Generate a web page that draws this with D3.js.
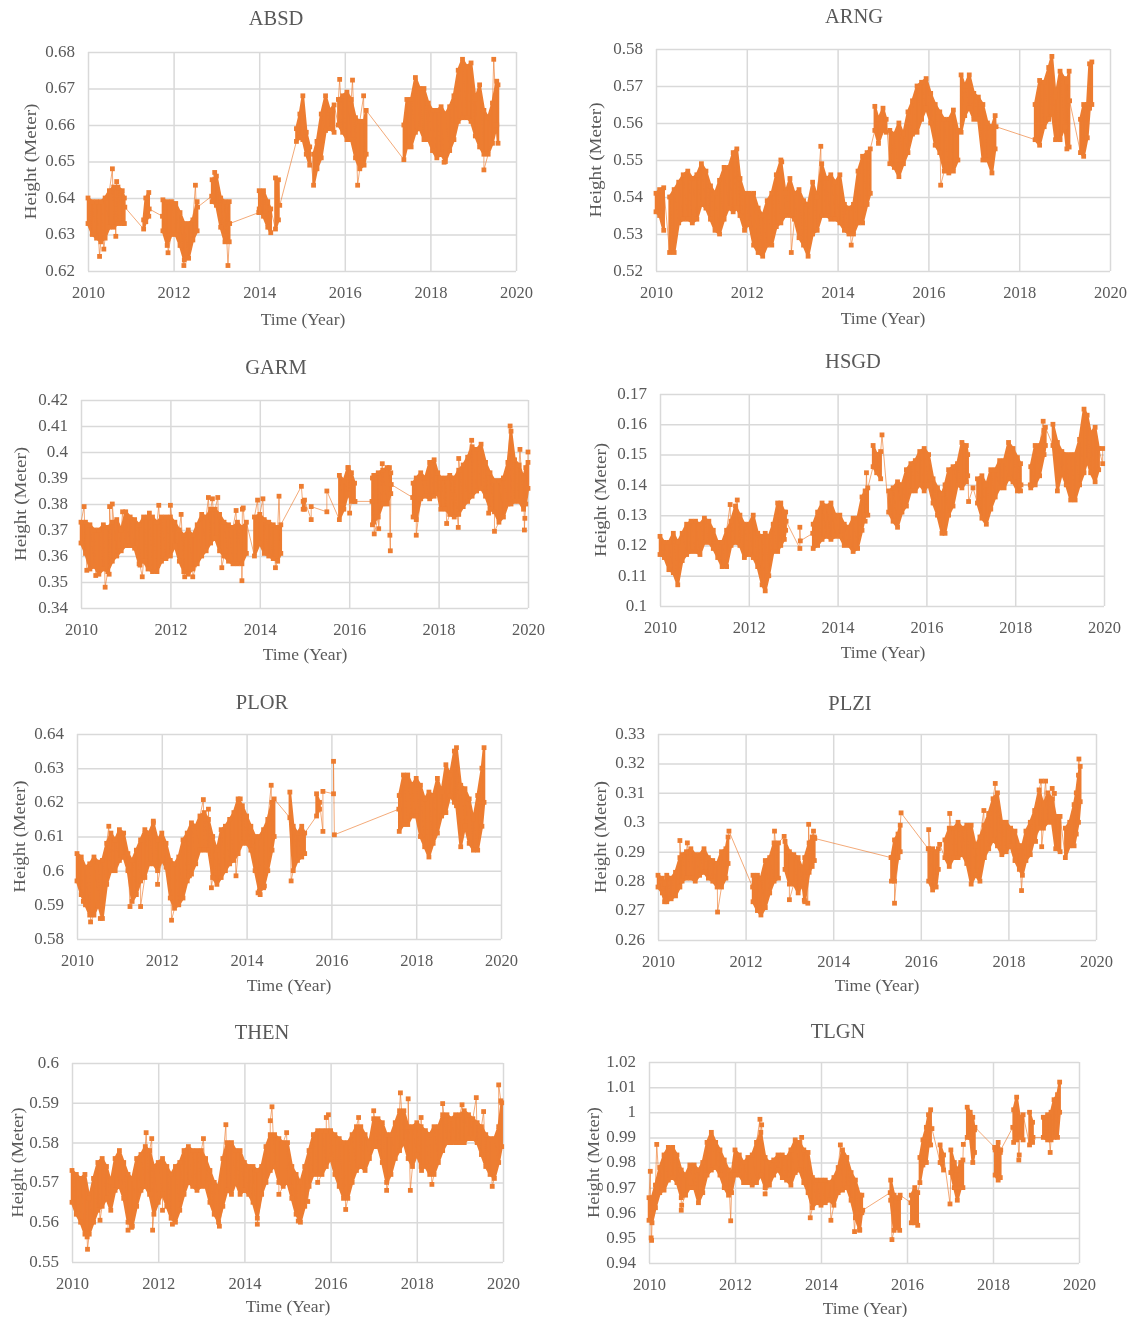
<!DOCTYPE html>
<html>
<head>
<meta charset="utf-8">
<title>Height time series</title>
<script src="https://cdnjs.cloudflare.com/ajax/libs/d3/7.8.5/d3.min.js"></script>
<style>
  html, body { margin: 0; padding: 0; background: #fff; }
  svg { filter: blur(0.35px); }
  text { font-family: "Liberation Serif", serif; fill: #595959; }
</style>
</head>
<body>
<svg id="chart" width="1128" height="1317"></svg>
<script>
// rows are [year, low, high] of the dense band, spikes are [year, value]
const xTicks = [2010, 2012, 2014, 2016, 2018, 2020];

const absdTicks = [0.62, 0.63, 0.64, 0.65, 0.66, 0.67, 0.68];
const absdBands = [
  [[2010.0,.633,.640],[2010.1,.630,.639],[2010.2,.629,.639],[2010.3,.628,.639],[2010.4,.629,.640],[2010.5,.632,.642],[2010.6,.632,.643],[2010.7,.633,.643],[2010.8,.633,.642],[2010.85,.633,.640]],
  [[2011.3,.6315,.634],[2011.35,.6335,.640],[2011.42,.635,.6415]],
  [[2011.75,.631,.6395],[2011.85,.627,.639],[2011.95,.630,.639],[2012.05,.630,.6385],[2012.15,.627,.636],[2012.25,.623,.633],[2012.35,.6235,.633],[2012.45,.6285,.634],[2012.55,.631,.639]],
  [[2012.9,.639,.645],[2013.0,.638,.646],[2013.1,.632,.640],[2013.2,.628,.639],[2013.3,.628,.639]],
  [[2014.0,.637,.642],[2014.1,.635,.642],[2014.2,.632,.639],[2014.27,.6305,.637]],
  [[2014.38,.6315,.6455],[2014.45,.634,.645]],
  [[2014.87,.6555,.659],[2014.95,.6565,.663],[2015.02,.656,.668],[2015.1,.652,.658],[2015.18,.649,.654]],
  [[2015.27,.6435,.652],[2015.35,.648,.6555],[2015.45,.651,.663],[2015.55,.6585,.668],[2015.65,.659,.664],[2015.75,.658,.6655]],
  [[2015.85,.660,.667],[2015.95,.658,.668],[2016.05,.656,.669],[2016.15,.656,.667],[2016.25,.651,.662],[2016.35,.648,.661],[2016.45,.649,.661],[2016.5,.652,.664]],
  [[2017.38,.6505,.660],[2017.45,.654,.667],[2017.55,.654,.667],[2017.65,.658,.673],[2017.75,.659,.670],[2017.85,.656,.670],[2017.95,.656,.666],[2018.05,.653,.664],[2018.15,.651,.664],[2018.25,.652,.665],[2018.35,.650,.663],[2018.45,.653,.665],[2018.55,.656,.668],[2018.65,.661,.675],[2018.75,.662,.678],[2018.85,.662,.676],[2018.95,.661,.677],[2019.05,.657,.667],[2019.15,.654,.671],[2019.25,.652,.664],[2019.35,.652,.662],[2019.45,.655,.666],[2019.55,.660,.672],[2019.58,.655,.671]]
];
const absdSpikes = [[2010.27,.624],[2010.37,.626],[2010.57,.648],[2010.65,.6295],[2010.67,.6445],[2010.86,.6375],[2011.43,.637],[2011.74,.635],[2011.87,.625],[2012.24,.6215],[2012.51,.6435],[2012.56,.6375],[2012.89,.6405],[2012.96,.647],[2013.27,.6215],[2013.31,.633],[2013.99,.636],[2014.48,.638],[2015.88,.6725],[2016.18,.6723],[2016.3,.6435],[2016.44,.668],[2018.32,.6498],[2019.25,.6477],[2019.48,.678]];

const arngTicks = [0.52, 0.53, 0.54, 0.55, 0.56, 0.57, 0.58];
const arngBands = [
  [[2010.0,.536,.541],[2010.08,.535,.542],[2010.17,.531,.5425]],
  [[2010.3,.525,.540],[2010.4,.525,.542],[2010.5,.533,.544],[2010.6,.534,.546],[2010.7,.534,.547],[2010.8,.533,.545],[2010.9,.534,.546],[2011.0,.538,.549],[2011.1,.537,.547],[2011.2,.534,.543],[2011.3,.531,.541],[2011.4,.530,.5445],[2011.5,.534,.548],[2011.6,.537,.548],[2011.7,.536,.552],[2011.78,.537,.553],[2011.85,.535,.545],[2011.95,.531,.541],[2012.05,.533,.541],[2012.15,.527,.541],[2012.25,.525,.537],[2012.35,.524,.535],[2012.45,.527,.539],[2012.55,.527,.541],[2012.65,.532,.546],[2012.75,.533,.550],[2012.85,.535,.541],[2012.95,.535,.545],[2013.05,.534,.541],[2013.15,.529,.542],[2013.25,.527,.539],[2013.35,.524,.538],[2013.45,.530,.544],[2013.55,.531,.540],[2013.65,.535,.549],[2013.75,.535,.545],[2013.85,.534,.546],[2013.95,.534,.544],[2014.05,.533,.546],[2014.15,.531,.538],[2014.25,.530,.537],[2014.35,.530,.538],[2014.45,.533,.547],[2014.55,.533,.551],[2014.65,.538,.552],[2014.72,.541,.553]],
  [[2014.82,.558,.5645],[2014.9,.5545,.561],[2015.0,.558,.564],[2015.07,.5575,.561]],
  [[2015.15,.549,.558],[2015.25,.548,.557],[2015.35,.5455,.560],[2015.45,.549,.557],[2015.55,.552,.563],[2015.65,.557,.566],[2015.75,.5575,.570],[2015.85,.561,.571],[2015.95,.564,.572],[2016.05,.560,.568],[2016.15,.554,.565],[2016.25,.552,.563],[2016.35,.547,.561],[2016.45,.5465,.561],[2016.55,.547,.5635],[2016.65,.550,.558]],
  [[2016.72,.5575,.573],[2016.8,.562,.570],[2016.9,.564,.573],[2017.0,.561,.568],[2017.1,.561,.567],[2017.2,.550,.565],[2017.3,.550,.560],[2017.4,.5465,.559],[2017.47,.553,.562]],
  [[2018.35,.5555,.565],[2018.45,.554,.5715],[2018.55,.559,.571],[2018.65,.561,.575],[2018.72,.563,.578],[2018.8,.5555,.567],[2018.9,.5555,.574],[2019.0,.559,.572],[2019.05,.553,.571],[2019.1,.5535,.574]],
  [[2019.35,.552,.561],[2019.42,.551,.565],[2019.5,.556,.565],[2019.55,.564,.576],[2019.6,.565,.5765]]
];
const arngSpikes = [[2012.77,.5495],[2012.98,.525],[2013.63,.5537],[2014.3,.527],[2016.27,.5432],[2017.49,.559],[2019.11,.566]];

const garmTicks = [0.34, 0.35, 0.36, 0.37, 0.38, 0.39, 0.4, 0.41, 0.42];
const garmBands = [
  [[2010.0,.365,.373],[2010.1,.361,.373],[2010.2,.355,.372],[2010.3,.356,.370],[2010.4,.353,.370],[2010.5,.355,.372],[2010.6,.354,.371],[2010.7,.358,.373],[2010.8,.360,.374],[2010.9,.362,.370],[2011.0,.364,.377],[2011.1,.364,.375],[2011.2,.363,.374],[2011.3,.357,.372],[2011.4,.358,.375],[2011.5,.355,.375],[2011.6,.354,.375],[2011.7,.354,.373],[2011.8,.358,.375],[2011.9,.359,.375],[2012.0,.360,.375],[2012.1,.364,.373],[2012.2,.358,.370],[2012.3,.354,.368],[2012.4,.353,.370],[2012.5,.355,.368],[2012.6,.357,.372],[2012.7,.360,.376],[2012.8,.362,.375],[2012.9,.365,.378],[2013.0,.367,.378],[2013.1,.362,.376],[2013.2,.360,.373],[2013.3,.358,.372],[2013.4,.357,.371],[2013.5,.357,.373],[2013.6,.357,.371],[2013.7,.361,.373]],
  [[2013.88,.360,.375],[2014.0,.365,.376],[2014.1,.361,.374],[2014.2,.360,.373],[2014.3,.359,.372],[2014.4,.358,.371],[2014.47,.361,.372]],
  [[2014.97,.378,.381],[2015.0,.378,.3815]],
  [[2015.15,.374,.379]],
  [[2015.5,.377,.385]],
  [[2015.78,.374,.391],[2015.88,.378,.389],[2015.97,.384,.394],[2016.05,.381,.392],[2016.12,.381,.388]],
  [[2016.52,.372,.390],[2016.55,.373,.391],[2016.65,.375,.392],[2016.75,.380,.393],[2016.85,.380,.394],[2016.93,.384,.392]],
  [[2017.43,.375,.388],[2017.5,.374,.390],[2017.6,.382,.392],[2017.7,.383,.390],[2017.8,.382,.396],[2017.9,.383,.397],[2017.98,.384,.392],[2018.05,.378,.390],[2018.15,.378,.390],[2018.25,.376,.391],[2018.35,.375,.390],[2018.45,.376,.393],[2018.55,.379,.395],[2018.65,.381,.398],[2018.75,.383,.402],[2018.85,.385,.401],[2018.95,.386,.403],[2019.05,.383,.396],[2019.15,.378,.392],[2019.25,.377,.389],[2019.35,.373,.389],[2019.45,.375,.390],[2019.55,.380,.396],[2019.62,.380,.408],[2019.7,.381,.397],[2019.8,.381,.395],[2019.9,.378,.390],[2019.95,.380,.394],[2020.0,.386,.396]]
];
const garmSpikes = [[2010.07,.379],[2010.13,.3545],[2010.33,.3525],[2010.54,.348],[2010.63,.353],[2010.64,.379],[2010.7,.380],[2010.93,.377],[2011.32,.3565],[2011.37,.352],[2011.53,.3765],[2011.74,.3795],[2012.0,.3795],[2012.24,.376],[2012.32,.352],[2012.5,.352],[2012.85,.3825],[2012.94,.382],[2013.06,.3825],[2013.15,.3555],[2013.47,.3775],[2013.6,.3505],[2013.61,.378],[2013.63,.3785],[2013.95,.3815],[2014.07,.382],[2014.35,.3555],[2014.43,.383],[2014.93,.3868],[2015.98,.394],[2016.01,.3765],[2016.13,.381],[2016.51,.381],[2016.56,.3685],[2016.66,.3705],[2016.74,.3955],[2016.9,.394],[2016.91,.368],[2016.92,.362],[2016.94,.3875],[2017.42,.3825],[2017.5,.368],[2018.18,.3725],[2018.44,.371],[2018.45,.3975],[2018.74,.4045],[2019.12,.3765],[2019.25,.3695],[2019.6,.410],[2019.82,.401],[2019.92,.370],[2019.93,.3745],[2020.0,.400]];

const hsgdTicks = [0.1, 0.11, 0.12, 0.13, 0.14, 0.15, 0.16, 0.17];
const hsgdBands = [
  [[2010.0,.117,.123],[2010.1,.116,.121],[2010.2,.112,.121],[2010.3,.111,.124],[2010.4,.107,.121],[2010.5,.115,.124],[2010.6,.117,.127],[2010.7,.118,.128],[2010.8,.118,.128],[2010.9,.117,.127],[2011.0,.121,.129],[2011.1,.121,.128],[2011.2,.119,.125],[2011.3,.116,.121],[2011.4,.113,.121],[2011.5,.113,.125],[2011.6,.120,.128],[2011.7,.121,.133],[2011.8,.120,.130],[2011.9,.116,.127],[2012.0,.117,.127],[2012.1,.116,.130],[2012.2,.113,.124],[2012.3,.107,.123],[2012.37,.105,.124],[2012.45,.110,.123],[2012.55,.118,.127],[2012.65,.118,.134],[2012.72,.120,.134],[2012.8,.122,.131],[2012.83,.125,.131]],
  [[2013.15,.119,.126]],
  [[2013.45,.119,.127],[2013.55,.120,.131],[2013.65,.122,.134],[2013.75,.123,.133],[2013.85,.122,.134],[2013.95,.123,.130],[2014.05,.123,.130],[2014.15,.120,.127],[2014.25,.120,.126],[2014.35,.118,.129],[2014.45,.119,.129],[2014.55,.125,.136],[2014.62,.130,.138],[2014.68,.130,.139]],
  [[2014.8,.146,.153],[2014.88,.144,.150],[2014.97,.142,.151]],
  [[2015.15,.131,.138],[2015.25,.128,.139],[2015.35,.126,.141],[2015.45,.131,.140],[2015.55,.133,.145],[2015.65,.138,.147],[2015.75,.138,.148],[2015.85,.140,.151],[2015.95,.138,.152],[2016.05,.140,.150],[2016.15,.134,.142],[2016.25,.130,.139],[2016.35,.124,.137],[2016.42,.124,.140],[2016.5,.130,.145],[2016.6,.133,.146],[2016.7,.140,.147],[2016.8,.139,.154],[2016.9,.141,.153],[2016.93,.143,.150]],
  [[2017.15,.134,.142],[2017.25,.129,.143],[2017.35,.127,.140],[2017.45,.132,.145],[2017.55,.136,.145],[2017.65,.139,.148],[2017.75,.139,.148],[2017.85,.142,.154],[2017.95,.141,.152],[2018.05,.138,.149],[2018.12,.138,.147]],
  [[2018.35,.139,.146],[2018.45,.140,.153],[2018.55,.143,.153],[2018.65,.150,.158],[2018.68,.153,.159]],
  [[2018.85,.153,.160],[2018.95,.138,.154],[2019.05,.144,.151],[2019.15,.140,.150],[2019.25,.135,.150],[2019.35,.135,.150],[2019.45,.140,.155],[2019.55,.144,.165],[2019.62,.148,.163],[2019.7,.144,.157],[2019.8,.141,.159],[2019.88,.145,.152]],
  [[2019.97,.147,.152]]
];
const hsgdSpikes = [[2011.58,.1335],[2011.74,.135],[2012.84,.128],[2013.16,.1215],[2013.44,.124],[2014.62,.128],[2014.65,.144],[2015.0,.1565],[2016.95,.1345],[2017.05,.139],[2018.13,.140],[2018.34,.140],[2018.63,.161]];

const plorTicks = [0.58, 0.59, 0.6, 0.61, 0.62, 0.63, 0.64];
const plorBands = [
  [[2010.0,.597,.605],[2010.1,.593,.604],[2010.2,.590,.601],[2010.3,.587,.602],[2010.4,.587,.604],[2010.5,.590,.6025],[2010.6,.586,.603],[2010.7,.596,.608],[2010.8,.600,.611],[2010.9,.600,.609],[2011.0,.603,.612],[2011.1,.604,.611],[2011.2,.600,.605],[2011.3,.591,.603],[2011.4,.593,.606],[2011.5,.597,.609],[2011.6,.598,.612],[2011.7,.602,.611],[2011.8,.602,.614],[2011.9,.600,.609],[2012.0,.603,.611],[2012.1,.601,.608],[2012.2,.592,.603],[2012.3,.589,.602],[2012.4,.590,.604],[2012.5,.592,.609],[2012.6,.597,.611],[2012.7,.599,.614],[2012.8,.602,.613],[2012.9,.606,.616],[2013.0,.606,.617],[2013.1,.606,.615],[2013.2,.598,.610],[2013.3,.596,.606],[2013.4,.598,.612],[2013.5,.600,.613],[2013.6,.602,.615],[2013.7,.603,.617],[2013.8,.605,.621],[2013.9,.608,.619],[2014.0,.608,.616],[2014.1,.606,.613],[2014.2,.600,.610],[2014.3,.594,.610],[2014.4,.595,.612],[2014.5,.600,.615],[2014.6,.606,.620],[2014.65,.610,.621]],
  [[2015.02,.6155,.623],[2015.1,.600,.613],[2015.2,.603,.611],[2015.3,.604,.613],[2015.37,.605,.611]],
  [[2015.65,.616,.6225],[2015.72,.618,.620]],
  [[2015.8,.6115,.6232]],
  [[2016.05,.6225,.632]],
  [[2017.6,.6115,.622],[2017.7,.6135,.628],[2017.8,.6135,.628],[2017.9,.616,.625],[2018.0,.616,.627],[2018.1,.610,.625],[2018.2,.607,.621],[2018.3,.604,.623],[2018.4,.608,.622],[2018.5,.611,.627],[2018.6,.616,.623],[2018.7,.617,.631],[2018.8,.622,.628],[2018.9,.620,.635],[2018.95,.619,.636],[2019.05,.607,.625],[2019.15,.613,.624],[2019.25,.608,.621],[2019.35,.606,.615],[2019.45,.606,.622],[2019.55,.613,.630],[2019.6,.620,.636]]
];
const plorSpikes = [[2010.15,.591],[2010.32,.585],[2010.55,.586],[2010.75,.613],[2011.25,.5895],[2011.5,.5895],[2011.8,.6145],[2011.9,.596],[2012.23,.5855],[2012.65,.5985],[2012.98,.6208],[2013.1,.618],[2013.17,.595],[2013.75,.5985],[2013.85,.621],[2014.27,.5935],[2014.32,.593],[2014.42,.5955],[2014.58,.625],[2015.05,.597],[2016.07,.6105],[2017.59,.618]];

const plziTicks = [0.26, 0.27, 0.28, 0.29, 0.3, 0.31, 0.32, 0.33];
const plziBands = [
  [[2010.0,.278,.282],[2010.1,.276,.281],[2010.15,.273,.279],[2010.2,.273,.282],[2010.3,.274,.281],[2010.4,.275,.283],[2010.5,.278,.288],[2010.55,.280,.289],[2010.65,.281,.290],[2010.75,.281,.291],[2010.85,.280,.289],[2010.95,.282,.289],[2011.05,.283,.291],[2011.15,.281,.288],[2011.25,.280,.287],[2011.35,.278,.286],[2011.45,.278,.290],[2011.55,.281,.291],[2011.6,.286,.295]],
  [[2012.17,.273,.282],[2012.27,.270,.282],[2012.35,.2685,.281],[2012.45,.271,.287],[2012.55,.276,.288],[2012.65,.280,.293],[2012.75,.281,.293]],
  [[2012.9,.284,.2935],[2013.0,.279,.290],[2013.1,.279,.289],[2013.2,.276,.288],[2013.3,.279,.284],[2013.35,.273,.288],[2013.45,.283,.293],[2013.52,.285,.295],[2013.57,.287,.295]],
  [[2015.33,.280,.288],[2015.4,.280,.294],[2015.48,.288,.296],[2015.53,.290,.299]],
  [[2016.18,.280,.291],[2016.27,.277,.291],[2016.35,.278,.290],[2016.4,.284,.291]],
  [[2016.55,.288,.294],[2016.65,.285,.298],[2016.75,.288,.298],[2016.85,.288,.300],[2016.95,.289,.298],[2017.05,.286,.299],[2017.15,.279,.299],[2017.25,.282,.292],[2017.35,.280,.295],[2017.45,.288,.299],[2017.55,.291,.303],[2017.65,.294,.308],[2017.75,.292,.310],[2017.85,.289,.300],[2017.95,.290,.300],[2018.05,.292,.298],[2018.15,.287,.297],[2018.25,.284,.292],[2018.32,.282,.292],[2018.4,.287,.297],[2018.5,.289,.300],[2018.6,.295,.304],[2018.7,.298,.311],[2018.8,.298,.306],[2018.9,.300,.310],[2019.0,.300,.308],[2019.08,.291,.302],[2019.18,.290,.302]],
  [[2019.3,.288,.298],[2019.4,.292,.300],[2019.5,.292,.306],[2019.55,.296,.310],[2019.6,.300,.316],[2019.64,.307,.319]]
];
const plziSpikes = [[2010.5,.2938],[2010.67,.293],[2011.36,.2695],[2011.62,.297],[2012.16,.278],[2012.66,.297],[2012.88,.2952],[2013.0,.2737],[2013.34,.2735],[2013.42,.2725],[2013.44,.2993],[2013.55,.297],[2013.58,.2945],[2015.32,.288],[2015.4,.2725],[2015.55,.3032],[2016.17,.291],[2016.18,.2975],[2016.43,.2925],[2016.66,.303],[2017.44,.304],[2017.7,.3132],[2018.3,.2768],[2018.62,.2935],[2018.75,.314],[2018.76,.2917],[2018.85,.314],[2019.0,.3115],[2019.05,.3098],[2019.61,.3215]];

const thenTicks = [0.55, 0.56, 0.57, 0.58, 0.59, 0.6];
const thenBands = [
  [[2010.0,.565,.573],[2010.1,.562,.572],[2010.2,.560,.571],[2010.3,.557,.572],[2010.4,.557,.566],[2010.5,.560,.571],[2010.6,.563,.575],[2010.7,.564,.576],[2010.8,.566,.574],[2010.9,.563,.570],[2011.0,.568,.576],[2011.1,.569,.578],[2011.2,.566,.575],[2011.3,.560,.572],[2011.4,.559,.571],[2011.5,.564,.576],[2011.6,.568,.577],[2011.7,.569,.579],[2011.8,.567,.578],[2011.9,.562,.574],[2012.0,.565,.575],[2012.1,.567,.576],[2012.2,.564,.574],[2012.3,.561,.572],[2012.4,.560,.574],[2012.5,.563,.575],[2012.6,.567,.578],[2012.7,.570,.579],[2012.8,.569,.578],[2012.9,.568,.578],[2013.0,.569,.578],[2013.1,.569,.576],[2013.2,.565,.573],[2013.3,.562,.570],[2013.4,.560,.569],[2013.5,.564,.576],[2013.6,.568,.580],[2013.7,.567,.580],[2013.8,.570,.578],[2013.9,.567,.578],[2014.0,.568,.575],[2014.1,.567,.574],[2014.2,.565,.574],[2014.3,.561,.573],[2014.4,.567,.574],[2014.5,.570,.579],[2014.6,.573,.582],[2014.7,.574,.582],[2014.8,.570,.581],[2014.9,.569,.580],[2015.0,.570,.580],[2015.1,.566,.574],[2015.2,.562,.572],[2015.3,.560,.570],[2015.4,.564,.574],[2015.5,.569,.578],[2015.6,.572,.582],[2015.7,.572,.583],[2015.8,.572,.583],[2015.9,.574,.583],[2016.0,.576,.583],[2016.1,.572,.582],[2016.2,.569,.581],[2016.3,.566,.580],[2016.4,.566,.580],[2016.5,.570,.582],[2016.6,.573,.584],[2016.7,.574,.584],[2016.8,.573,.582],[2016.9,.576,.580],[2017.0,.579,.586],[2017.1,.579,.586],[2017.2,.575,.585],[2017.3,.570,.582],[2017.4,.572,.582],[2017.5,.576,.585],[2017.6,.578,.588],[2017.7,.580,.588],[2017.8,.576,.584],[2017.9,.574,.584],[2018.0,.577,.585],[2018.1,.574,.584],[2018.2,.574,.583],[2018.3,.572,.582],[2018.4,.572,.584],[2018.5,.575,.584],[2018.6,.578,.587],[2018.7,.580,.587],[2018.8,.580,.586],[2018.9,.580,.587],[2019.0,.580,.587],[2019.1,.580,.588],[2019.2,.581,.587],[2019.3,.581,.586],[2019.4,.580,.585],[2019.5,.577,.584],[2019.6,.574,.582],[2019.7,.572,.581],[2019.8,.571,.581],[2019.9,.575,.584],[2019.97,.579,.590]]
];
const thenSpikes = [[2010.35,.5563],[2010.36,.5532],[2010.65,.5605],[2011.3,.558],[2011.38,.5587],[2011.72,.5825],[2011.85,.581],[2011.87,.558],[2012.1,.563],[2012.33,.5595],[2013.05,.581],[2013.42,.559],[2013.57,.5845],[2014.3,.5595],[2014.6,.5855],[2014.64,.589],[2014.8,.567],[2014.98,.5825],[2015.25,.5603],[2015.47,.5652],[2015.7,.570],[2015.9,.5863],[2015.95,.587],[2016.35,.5632],[2016.65,.5863],[2017.0,.588],[2017.3,.568],[2017.62,.5925],[2017.8,.591],[2017.85,.568],[2018.1,.5863],[2018.11,.573],[2018.35,.5695],[2018.6,.5898],[2019.05,.5895],[2019.38,.5913],[2019.55,.5878],[2019.75,.569],[2019.9,.5945],[2019.95,.5905]];

const tlgnTicks = [0.94, 0.95, 0.96, 0.97, 0.98, 0.99, 1, 1.01, 1.02];
const tlgnBands = [
  [[2010.0,.957,.966],[2010.07,.956,.966],[2010.15,.962,.971],[2010.25,.968,.978],[2010.35,.969,.983],[2010.45,.973,.986],[2010.55,.974,.986],[2010.65,.972,.983],[2010.75,.966,.977],[2010.85,.967,.975],[2010.95,.970,.979],[2011.05,.970,.979],[2011.15,.964,.977],[2011.25,.968,.980],[2011.35,.975,.988],[2011.45,.977,.992],[2011.55,.978,.988],[2011.65,.975,.985],[2011.75,.970,.981],[2011.85,.967,.977],[2011.92,.968,.975],[2012.0,.975,.985],[2012.1,.975,.983],[2012.2,.972,.980],[2012.3,.972,.982],[2012.4,.971,.983],[2012.5,.972,.988],[2012.6,.975,.992],[2012.7,.970,.982],[2012.8,.971,.980],[2012.9,.975,.981],[2013.0,.977,.983],[2013.1,.974,.983],[2013.2,.973,.982],[2013.3,.971,.985],[2013.4,.976,.989],[2013.5,.977,.988],[2013.6,.972,.985],[2013.7,.968,.984],[2013.8,.962,.974],[2013.9,.964,.973],[2014.0,.963,.973],[2014.1,.964,.973],[2014.2,.965,.972],[2014.3,.963,.974],[2014.4,.968,.978],[2014.5,.969,.985],[2014.6,.970,.982],[2014.7,.965,.976],[2014.8,.958,.973],[2014.9,.953,.967],[2014.95,.960,.967]],
  [[2015.62,.965,.973],[2015.7,.953,.967],[2015.77,.954,.966],[2015.83,.953,.966]],
  [[2016.1,.956,.967],[2016.18,.956,.970],[2016.25,.955,.968]],
  [[2016.3,.972,.982],[2016.37,.979,.989],[2016.45,.980,.994],[2016.5,.987,.999],[2016.55,.987,1.001]],
  [[2016.77,.980,.987],[2016.85,.977,.983]],
  [[2017.02,.976,.985],[2017.1,.970,.980],[2017.17,.965,.977],[2017.25,.970,.980],[2017.3,.970,.981]],
  [[2017.4,.990,1.002],[2017.47,.990,1.000],[2017.53,.980,.998],[2017.57,.984,.993]],
  [[2018.05,.975,.985],[2018.12,.973,.988],[2018.17,.974,.984]],
  [[2018.48,.988,1.001],[2018.55,.989,1.006],[2018.62,.990,.998],[2018.7,.989,.999]],
  [[2018.85,.987,1.000],[2018.92,.988,.996]],
  [[2019.17,.990,.998],[2019.27,.989,.999],[2019.35,.989,1.000],[2019.42,.990,1.005],[2019.5,.990,1.007],[2019.55,1.000,1.012]]
];
const tlgnSpikes = [[2010.03,.9765],[2010.05,.950],[2010.06,.949],[2010.18,.9872],[2010.75,.961],[2010.76,.963],[2011.9,.9568],[2012.58,.9972],[2012.62,.995],[2012.7,.9675],[2013.55,.990],[2013.75,.958],[2014.23,.957],[2014.45,.987],[2014.78,.9525],[2014.9,.9533],[2014.97,.961],[2015.61,.968],[2015.65,.9493],[2015.84,.967],[2016.09,.964],[2016.58,.9935],[2017.0,.9635],[2017.31,.9872],[2017.58,.994],[2018.04,.986],[2018.18,.985],[2018.46,.994],[2018.6,.981],[2018.61,.983],[2018.93,.990],[2019.33,.984]];

// pixel boxes of the panels, read from the page
const panels = [
  {name: "ABSD", ticks: absdTicks, bands: absdBands, spikes: absdSpikes, left: 88, right: 516, top: 52, bottom: 271, titleX: 276, titleY: 25, labelX: 303, labelY: 325, yLabelX: 36, yLabelLen: 116},
  {name: "ARNG", ticks: arngTicks, bands: arngBands, spikes: arngSpikes, left: 656, right: 1110, top: 49, bottom: 271, titleX: 854, titleY: 23, labelX: 883, labelY: 324, yLabelX: 601, yLabelLen: 115},
  {name: "GARM", ticks: garmTicks, bands: garmBands, spikes: garmSpikes, left: 81, right: 528, top: 400, bottom: 608, titleX: 276, titleY: 374, labelX: 305, labelY: 660, yLabelX: 26, yLabelLen: 114},
  {name: "HSGD", ticks: hsgdTicks, bands: hsgdBands, spikes: hsgdSpikes, left: 660, right: 1104, top: 394, bottom: 606, titleX: 853, titleY: 368, labelX: 883, labelY: 658, yLabelX: 606, yLabelLen: 114},
  {name: "PLOR", ticks: plorTicks, bands: plorBands, spikes: plorSpikes, left: 77, right: 501, top: 734, bottom: 939, titleX: 262, titleY: 709, labelX: 289, labelY: 991, yLabelX: 25, yLabelLen: 112},
  {name: "PLZI", ticks: plziTicks, bands: plziBands, spikes: plziSpikes, left: 658, right: 1096, top: 734, bottom: 940, titleX: 850, titleY: 710, labelX: 877, labelY: 991, yLabelX: 606, yLabelLen: 112},
  {name: "THEN", ticks: thenTicks, bands: thenBands, spikes: thenSpikes, left: 72, right: 503, top: 1063, bottom: 1262, titleX: 262, titleY: 1039, labelX: 288, labelY: 1312, yLabelX: 23, yLabelLen: 110},
  {name: "TLGN", ticks: tlgnTicks, bands: tlgnBands, spikes: tlgnSpikes, left: 649, right: 1079, top: 1062, bottom: 1263, titleX: 838, titleY: 1038, labelX: 865, labelY: 1314, yLabelX: 599, yLabelLen: 111}
];

const orange = "#ED7D31", grid = "#D9D9D9";
const chart = d3.select("#chart");

function drawPanel(p) {
  const xScale = d3.scaleLinear().domain([2010, 2020]).range([p.left, p.right]);
  const yScale = d3.scaleLinear().domain(d3.extent(p.ticks)).range([p.bottom, p.top]);
  const g = chart.append("g").attr("class", "panel");

  const xAxis = d3.axisBottom(xScale).tickValues(xTicks).tickFormat(d3.format("d"))
      .tickSize(p.top - p.bottom).tickSizeOuter(0).tickPadding(0);
  const yAxis = d3.axisLeft(yScale).tickValues(p.ticks).tickFormat(String)
      .tickSize(p.left - p.right).tickSizeOuter(0).tickPadding(13);

  const gx = g.append("g").attr("transform", "translate(0," + p.bottom + ")").call(xAxis);
  const gy = g.append("g").attr("transform", "translate(" + p.left + ",0)").call(yAxis);
  g.selectAll(".domain").remove();
  g.selectAll(".tick line").attr("stroke", grid).attr("stroke-width", 1.5);
  gx.selectAll("text").attr("y", 27).attr("dy", 0).attr("font-size", 16.5);
  gy.selectAll("text").attr("font-size", 17).attr("dy", "0.26em");

  // dense part of the record, a stroke keeps the edge as lumpy as the stacked squares
  const area = d3.area().x(d => xScale(d[0])).y0(d => yScale(d[1])).y1(d => yScale(d[2]));
  g.selectAll(".band").data(p.bands.filter(b => b.length > 1)).enter().append("path")
      .attr("class", "band").attr("d", area).attr("fill", orange)
      .attr("stroke", orange).attr("stroke-width", 2.5).attr("stroke-linejoin", "round");

  // every point of the panel in time order, thin line through all of them
  const points = [];
  p.bands.forEach(b => b.forEach(r => { points.push([r[0], r[1]]); points.push([r[0], r[2]]); }));
  const linePoints = points.concat(p.spikes).map((d, i) => ({t: d[0], v: d[1], i: i}))
      .sort((a, b) => a.t - b.t || a.i - b.i);
  const valueline = d3.line().x(d => xScale(d.t)).y(d => yScale(d.v));
  g.append("path").datum(linePoints).attr("d", valueline)
      .attr("fill", "none").attr("stroke", orange).attr("stroke-width", 1).attr("stroke-opacity", 0.65);

  const square = d3.symbol(d3.symbolSquare, 23);
  g.selectAll(".dot").data(linePoints).enter().append("path")
      .attr("class", "dot").attr("d", square)
      .attr("transform", d => "translate(" + xScale(d.t) + "," + yScale(d.v) + ")")
      .attr("fill", orange);

  g.append("text").attr("x", p.titleX).attr("y", p.titleY).attr("text-anchor", "middle")
      .attr("font-size", 20.5).text(p.name);
  g.append("text").attr("x", p.labelX).attr("y", p.labelY).attr("text-anchor", "middle")
      .attr("font-size", 17.5).text("Time (Year)");
  g.append("text").attr("transform", "translate(" + p.yLabelX + "," + ((p.top + p.bottom) / 2) + ") rotate(-90)")
      .attr("text-anchor", "middle").attr("font-size", 17.5)
      .attr("textLength", p.yLabelLen).attr("lengthAdjust", "spacingAndGlyphs").text("Height (Meter)");
}

panels.forEach(drawPanel);
</script>
</body>
</html>
